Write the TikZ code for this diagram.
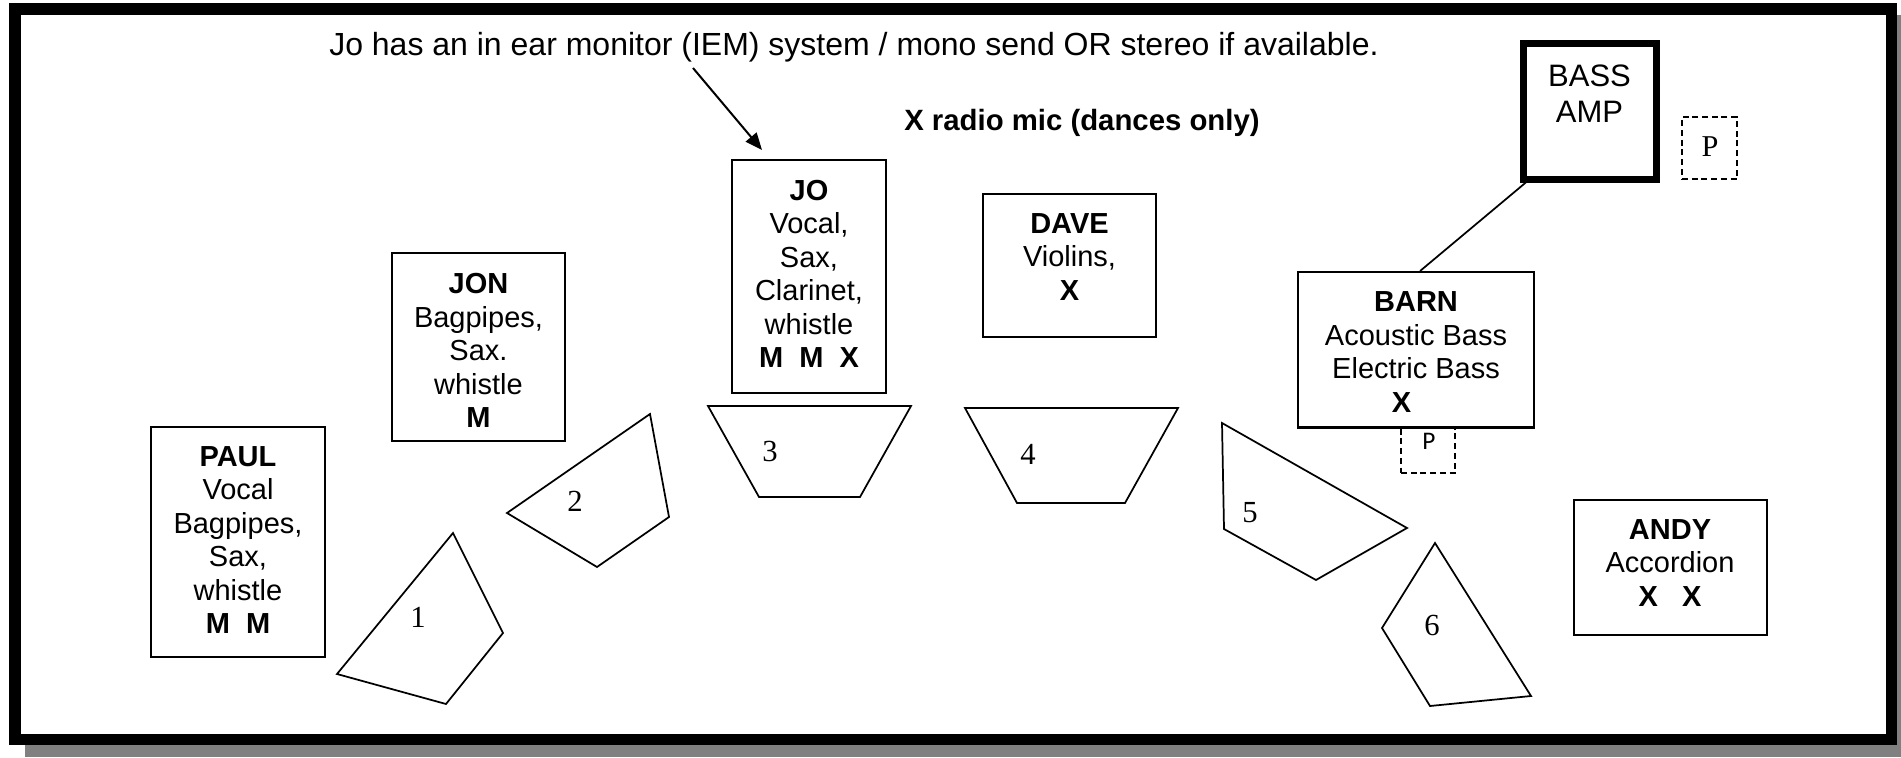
\documentclass[tikz,border=0pt]{standalone}
\usepackage{fontspec}
\setmainfont{Liberation Serif}
\setsansfont{Liberation Sans}
\newfontfamily\calibfont{Carlito}
\usetikzlibrary{fit,calc,arrows.meta}
\begin{document}
\begin{tikzpicture}[x=0.75pt,y=-0.75pt,
  box/.style={draw, line width=1.5pt, inner sep=0pt},
  ampbox/.style={draw, line width=5.25pt, inner sep=0pt},
  pbox/.style={draw, line width=1.3pt, dash pattern=on 4.5pt off 2.8pt, inner sep=0pt},
  who/.style={align=center, inner sep=0pt, font=\sffamily\fontsize{21.75}{25.1}\selectfont},
  wedge/.style={draw, line width=1.3pt, line join=miter},
  num/.style={inner sep=0pt, font=\rmfamily\fontsize{23}{27}\selectfont}]
\useasboundingbox (0,0) rectangle (1901,757);
% frame with shadow
\fill[black!50] (25,15) rectangle (1901,757);
\filldraw[fill=white, draw=black, line width=8.6pt] (15,9) rectangle (1891.5,739.5);

% notes
\node[anchor=base west, inner sep=0pt, font=\sffamily\fontsize{24}{28}\selectfont] (iemnote) at (329,55)
  {Jo has an in ear monitor (IEM) system / mono send OR stereo if available.};
\node[anchor=base west, inner sep=0pt, font=\sffamily\bfseries\fontsize{22}{26}\selectfont] (radionote) at (904,130)
  {X radio mic (dances only)};
\coordinate (iemtail) at (693,68);
\coordinate (iemtip) at (762,150);
\draw[line width=1.5pt, -{Triangle[length=12.75pt,width=10.5pt]}] (iemtail) -- (iemtip);

% player boxes
\node[box, fit={(732,160) (886,393)}] (jo) {};
\node[box, fit={(392,253) (565,441)}] (jon) {};
\node[box, fit={(151,427) (325,657)}] (paul) {};
\node[box, fit={(983,194) (1156,337)}] (dave) {};
\node[box, fit={(1298,272) (1534,427)}] (barn) {};
\node[box, fit={(1574,500) (1767,635)}] (andy) {};
\node[ampbox, fit={(1523,43) (1656,179)}] (bassamp) {};
\node[pbox, fit={(1682,117) (1737,179)}] (pamp) {};
\node[pbox, fit={(1401,427) (1455,473)}] (pbarn) {};
\draw[box] (barn.south west) -- (barn.south east);

\draw[line width=1.3pt] ($(bassamp.south west)!0.045!(bassamp.south east)$) -- ($(barn.north west)!0.517!(barn.north east)$);

% texts
\node[who] (jotxt) at (809,273.75) {\textbf{JO}\\Vocal,\\Sax,\\Clarinet,\\whistle\\\textbf{M\ \ M\ \ X}};
\node[who] (jontxt) at (478.5,350.5) {\textbf{JON}\\Bagpipes,\\Sax.\\whistle\\\textbf{M}};
\node[who] (paultxt) at (238,540) {\textbf{PAUL}\\Vocal\\Bagpipes,\\Sax,\\whistle\\\textbf{M\ \ M}};
\node[who] (davetxt) at (1069.5,257) {\textbf{DAVE}\\Violins,\\\textbf{X}};
\node[who] (barntxt) at (1416,352) {\textbf{BARN}\\Acoustic Bass\\Electric Bass\\\textbf{X}\kern21.75pt};
\node[who] (andytxt) at (1670,563) {\textbf{ANDY}\\Accordion\\\textbf{X\ \ \ X}};
\node[align=center, inner sep=0pt, font=\sffamily\fontsize{23.25}{27}\selectfont] (amptxt) at (1589.5,94) {BASS\\AMP};
\node[inner sep=0pt, font=\rmfamily\fontsize{22.7}{26}\selectfont] (pamptxt) at (1710,147) {P};
\node[inner sep=0pt, font=\calibfont\fontsize{19}{22}\selectfont] (pbarntxt) at (1429,441) {P};

% monitor wedges
\draw[wedge] (453,533) -- (503,633) -- (446,704) -- (337,674) -- cycle;
\draw[wedge] (650,414) -- (669,517) -- (597,567) -- (507,513) -- cycle;
\draw[wedge] (708,406) -- (911,406) -- (860,497) -- (759,497) -- cycle;
\draw[wedge] (965,408) -- (1178,408) -- (1125,503) -- (1017,503) -- cycle;
\draw[wedge] (1222,423) -- (1407,528) -- (1316,580) -- (1224,529) -- cycle;
\draw[wedge] (1435,543) -- (1531,696) -- (1430,706) -- (1382,628) -- cycle;
\node[num] (n1) at (418,617) {1};
\node[num] (n2) at (575,501) {2};
\node[num] (n3) at (770,451) {3};
\node[num] (n4) at (1028,454) {4};
\node[num] (n5) at (1250,513) {5};
\node[num] (n6) at (1432,625) {6};
\end{tikzpicture}
\end{document}
